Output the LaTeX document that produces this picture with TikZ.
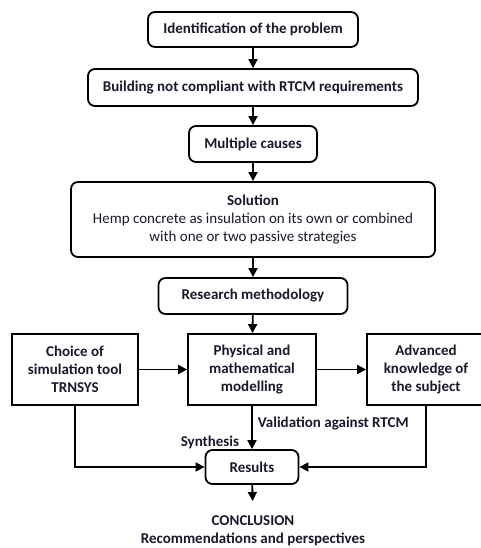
\documentclass[tikz,border=0pt]{standalone}
\usepackage{fontspec}
\setmainfont{Carlito}
\usepackage{xcolor}
\usepackage{tikz}
\usetikzlibrary{arrows.meta}
\definecolor{inkblue}{RGB}{25,25,45}
\tikzset{
  flownode/.style = {align=center, inner sep=0pt, text centered,
    font=\fontsize{15}{18}\selectfont\bfseries, text=inkblue, draw=black,
    line width=1.8pt},
  box_r/.style = {flownode, rectangle, rounded corners=7pt},% boite arrondie
  box_s/.style = {flownode, rectangle},% boite carree
  flowlabel/.style = {inner sep=0pt, font=\fontsize{15}{18}\selectfont\bfseries,
    text=inkblue}% etiquette sur une fleche
}

\begin{document}
\begin{tikzpicture}[x=1pt,y=-1pt,->,>={Triangle[length=9pt,width=9pt]},
  line width=1.8pt]
\useasboundingbox (0,0) rectangle (481,548);
% chaine principale
\node [box_r, minimum width=210pt, minimum height=35pt] (ident) at (253,29.5)
  {Identification of the problem};
\node [box_r, minimum width=330pt, minimum height=37pt] (build) at (253,87.5)
  {Building not compliant with RTCM requirements};
\node [box_r, minimum width=128pt, minimum height=36pt] (causes) at (253,144)
  {Multiple causes};
\node [box_r, minimum width=364pt, minimum height=75pt] (sol) at (253,219.5)
  {Solution\\ {\mdseries Hemp concrete as insulation on its own or combined}\\
   {\mdseries with one or two passive strategies}};
\node [box_r, minimum width=189pt, minimum height=36pt] (meth) at (253,296)
  {Research methodology};
% les trois blocs
\node [box_s, minimum width=126pt, minimum height=71pt] (choice) at (75,369.5)
  {Choice of\\ simulation tool\\ TRNSYS};
\node [box_s, minimum width=128pt, minimum height=71pt] (phys) at (252,369.5)
  {Physical and\\ mathematical\\ modelling};
\node [box_s, minimum width=118pt, minimum height=71pt] (adv) at (426,369.5)
  {Advanced\\ knowledge of\\ the subject};
\node [box_r, minimum width=93pt, minimum height=34pt] (res) at (252,467)
  {Results};
\node [flowlabel, align=center] (concl) at (253,531)
  {CONCLUSION\\ Recommendations and perspectives};
\node [flowlabel, anchor=west] (valid) at (257,423) {Validation against RTCM};
\node [flowlabel, anchor=east] (synth) at (240,442) {Synthesis};

\draw (ident) -- (build);
\draw (build) -- (causes);
\draw (causes) -- (sol);
\draw (sol) -- (meth);
\draw (meth) -- (phys);
\draw (choice) -- (phys);
\draw (phys) -- (adv);
\draw (phys) -- (res);
\draw (choice.south) |- (res.west);
\draw (adv.south) |- (res.east);
\draw [shorten >=14pt] (res) -- (concl);
\end{tikzpicture}
\end{document}
